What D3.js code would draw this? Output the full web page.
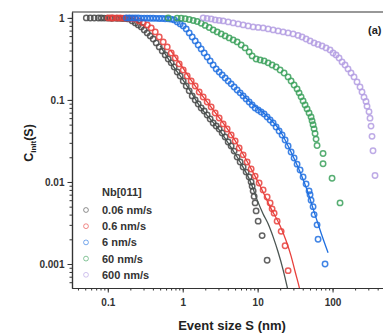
<!DOCTYPE html>
<html>
<head>
<meta charset="utf-8">
<script src="https://cdn.jsdelivr.net/npm/d3@7"></script>
<style>
  html, body { margin: 0; padding: 0; background: #fff; }
  svg { display: block; font-family: "Liberation Sans", Arial, sans-serif; }
</style>
</head>
<body>
<svg id="chart" width="383" height="334"></svg>
<script>
// Cumulative distribution of event sizes, Nb[011], for five driving rates.
const seriesNames = ["0.06 nm/s", "0.6 nm/s", "6 nm/s", "60 nm/s", "600 nm/s"];
const seriesColors = ["#474747", "#e8403c", "#1f6fe0", "#3aa05a", "#b39ce2"];

// event sizes S (nm) and cumulative fraction C_init(S) per rate
const s006 = [0.0517,0.0584,0.066,0.0747,0.0819,0.0897,0.0985,0.108,0.115,0.130,0.142,0.156,0.171,
  0.188,0.212,0.233,0.255,0.280,0.307,0.336,0.369,0.404,0.443,0.486,0.533,0.584,0.641,0.703,0.770,0.845,
  0.926,1.016,1.114,1.221,1.339,1.468,1.610,1.765,1.935,2.121,2.326,2.551,2.797,3.066,3.363,3.687,4.043,
  4.433,4.861,5.33,5.843,6.407,7.026,7.704,8.19,8.45,8.71,8.98,9.26,9.55,10.16,11.48,13.39];
const c006 = [1,0.999,0.998,0.997,0.996,0.995,0.994,0.993,0.991,0.989,0.987,0.984,0.98,
  0.972,0.919,0.869,0.8215,0.777,0.714,0.656,0.603,0.554,0.4955,0.443,0.396,0.354,0.316,0.283,0.2525,0.219,
  0.196,0.170,0.148,0.129,0.112,0.1,0.0894,0.0799,0.0734,0.0656,0.0586,0.0524,0.0482,0.0443,0.0396,0.0354,0.0307,
  0.0274,0.0238,0.0201,0.0175,0.0152,0.0132,0.0115,0.01,0.00889,0.00778,0.00667,0.00556,0.00444,0.00333,0.00222,0.00111];

const s06 = [0.1015,0.1113,0.1184,0.1339,0.1468,0.161,0.1765,0.1935,0.2121,
  0.2326,0.263,0.2973,0.3363,0.3802,0.4299,0.4861,0.5495,0.6213,0.7026,0.7943,0.8981,1.0155,1.148,1.298,
  1.468,1.66,1.877,2.121,2.399,2.712,3.066,3.467,3.921,4.433,5.012,5.667,6.407,7.245,8.191,9.261,10.47,
  11.84,13.39,14.68,15.61,16.6,18.2,20.6,23.26,25.51];
const c06 = [1,0.999,0.998,0.997,0.996,0.995,0.993,0.99,0.985,
  0.972,0.919,0.869,0.8215,0.755,0.675,0.586,0.51,0.443,0.374,0.325,0.275,0.232,0.196,0.170,
  0.148,0.125,0.1088,0.0945,0.0822,0.0694,0.0603,0.051,0.0443,0.0374,0.0316,0.0259,0.0214,0.0175,0.0144,0.0118,0.00972,
  0.008,0.00658,0.00556,0.0047,0.00417,0.00333,0.0025,0.00167,0.00083];

const s6 = [0.1765,0.1935,0.2121,0.2326,0.2551,0.2797,0.3066,0.3363,0.3687,0.4043,0.4433,0.4861,0.533,0.5843,0.6407,
  0.7026,0.7703,0.8447,0.9261,1.0155,1.1135,1.221,1.339,1.468,1.61,1.765,1.935,2.121,2.326,2.551,2.797,3.066,
  3.363,3.687,4.043,4.433,4.861,5.33,5.843,6.407,7.026,7.704,8.447,9.261,10.16,11.13,12.21,13.39,14.68,16.1,
  17.65,19.35,21.22,23.26,25.51,27.97,30.67,33.62,36.87,40.43,44.34,48.6,50.1,51.7,54.96,56.67,62.13,64.07,79.43];
const c6 = [1,0.999,0.998,0.997,0.996,0.995,0.994,0.993,0.992,0.99,0.988,0.985,0.982,0.978,0.973,
  0.966,0.945,0.894,0.845,0.799,0.734,0.656,0.586,0.524,0.468,0.419,0.374,0.334,0.299,0.267,0.239,0.219,
  0.2017,0.185,0.170,0.157,0.144,0.132,0.122,0.112,0.103,0.0945,0.0869,0.0799,0.0755,0.0714,0.0675,0.062,0.057,0.0524,
  0.0468,0.0418,0.0374,0.0325,0.0274,0.0232,0.0196,0.0165,0.014,0.0115,0.00945,0.00778,0.007,0.006,0.005,0.004,0.003,0.002,0.001];

const s60 = [0.6407,0.8447,0.955,1.08,1.221,1.381,1.561,1.765,1.995,2.256,2.551,2.884,3.261,3.687,4.169,4.714,5.33,
  6.026,6.813,7.704,8.447,9.55,10.8,12.21,13.8,15.61,17.65,19.95,22.56,25.51,27.97,30.67,33.62,35.76,38.02,40.43,
  42.99,45.72,48.6,51.68,53.3,54.96,56.67,58.43,60.26,62.13,74.7,74.7,98.5,125.9];
const c60 = [1,0.994,0.989,0.978,0.956,0.93,0.904,0.86,0.81,0.765,0.714,0.675,0.638,0.603,0.570,0.539,0.51,
  0.468,0.4305,0.385,0.344,0.316,0.307,0.299,0.283,0.267,0.2525,0.232,0.213,0.191,0.170,0.152,0.136,0.122,0.109,0.0972,
  0.0869,0.0777,0.0694,0.062,0.0556,0.05,0.0444,0.0389,0.0333,0.0278,0.0222,0.0167,0.0111,0.00556];

const s600 = [1.877,2.121,2.399,2.712,3.066,3.467,4.043,4.714,5.496,6.407,7.471,8.71,10.16,11.84,13.8,16.1,18.76,21.88,
  25.51,29.75,34.67,39.21,44.34,50.12,56.67,64.07,72.45,81.9,92.61,101.6,111.4,122.1,133.9,146.8,160.9,176.4,193.5,
  212.2,232.6,247.3,263.0,279.7,288.5,306.7,316.2,326.1,336.3,346.8,368.8];
const c600 = [1,0.986,0.972,0.945,0.932,0.919,0.894,0.869,0.845,0.8215,0.799,0.777,0.766,0.755,0.734,0.714,0.694,0.675,
  0.656,0.638,0.612,0.586,0.554,0.524,0.4955,0.475,0.455,0.4305,0.407,0.374,0.354,0.325,0.291,0.267,0.239,0.213,0.191,
  0.166,0.144,0.125,0.108,0.096,0.084,0.072,0.06,0.048,0.036,0.024,0.012];

// fitted curves for the three slowest rates
const fitS006 = [0.5012,0.6813,0.9261,1.259,1.711,2.326,3.162,4.299,5.843,7.943,9.848,11.84,13.8,16.1,18.76,21.88,24.74,26.3];
const fitC006 = [0.4554,0.2906,0.1961,0.1287,0.0822,0.0586,0.0418,0.0274,0.0175,0.0103,0.00605,0.00408,0.00309,0.00214,0.0014,0.00085,0.00053,0.00041];
const fitS06 = [0.6813,0.9261,1.259,1.711,2.326,3.162,4.299,5.843,7.943,10.8,14.68,19.95,23.99,27.97,31.62,35.76,38.02];
const fitC06 = [0.407,0.2747,0.1802,0.1217,0.0845,0.0586,0.0396,0.0252,0.0152,0.00894,0.00497,0.00292,0.00192,0.00125,0.00081,0.00053,0.00041];
const fitS6 = [5.843,7.943,10.8,14.68,19.95,27.13,36.87,47.15,58.43,70.26,87.1];
const fitC6 = [0.125,0.0945,0.0755,0.0586,0.0418,0.0245,0.0132,0.00735,0.00397,0.00239,0.00137];

const xTicks = [0.1, 1, 10, 100];
const yTicks = [1, 0.1, 0.01, 0.001];

const series = [
  {S: s006, C: c006}, {S: s06, C: c06}, {S: s6, C: c6}, {S: s60, C: c60}, {S: s600, C: c600}
].map((d, i) => ({
  name: seriesNames[i], color: seriesColors[i],
  points: d.S.map((s, j) => [s, d.C[j]])
}));
const fits = [
  {color: "#4b5552", S: fitS006, C: fitC006},
  {color: "#e8403c", S: fitS06, C: fitC06},
  {color: "#1f6fe0", S: fitS6, C: fitC6}
].map(f => ({color: f.color, points: f.S.map((s, j) => [s, f.C[j]])}));

const svg = d3.select("#chart");
const plotLeft = 72, plotRight = 384, plotTop = 12, plotBottom = 288;

const x = d3.scaleLog().domain([0.0333, 486]).range([plotLeft, plotRight]);
const y = d3.scaleLog().domain([0.00051, 1.18]).range([plotBottom, plotTop]);

svg.append("defs").append("clipPath").attr("id", "plot")
  .append("rect").attr("x", plotLeft).attr("y", plotTop)
  .attr("width", plotRight - plotLeft).attr("height", plotBottom - plotTop);

const plot = svg.append("g").attr("clip-path", "url(#plot)");

// data circles
series.forEach(s => {
  plot.append("g").selectAll("circle").data(s.points).join("circle")
    .attr("cx", d => x(d[0]))
    .attr("cy", d => y(d[1]))
    .attr("r", 2.7)
    .attr("fill", "none")
    .attr("stroke", s.color)
    .attr("stroke-width", 1.5)
    .attr("opacity", 0.85);
});

// fitted lines
const line = d3.line().x(d => x(d[0])).y(d => y(d[1])).curve(d3.curveMonotoneX);
fits.forEach(f => {
  plot.append("path").datum(f.points)
    .attr("d", line)
    .attr("fill", "none")
    .attr("stroke", f.color)
    .attr("stroke-width", 1.3);
});

// frame
svg.append("line").attr("x1", plotLeft).attr("x2", plotRight).attr("y1", plotTop).attr("y2", plotTop)
  .attr("stroke", "#333").attr("stroke-width", 1.2);

// axes
const minorX = [];
for (let e = -2; e <= 2; e++) for (let m = 1; m < 10; m++) {
  const v = m * Math.pow(10, e);
  if (v >= 0.0333 && v <= 486) minorX.push(v);
}
const minorY = [];
for (let e = -4; e <= 0; e++) for (let m = 1; m < 10; m++) {
  const v = m * Math.pow(10, e);
  if (v >= 0.00051 && v <= 1.18) minorY.push(v);
}

const xAxisG = svg.append("g").attr("transform", `translate(0,${plotBottom})`);
xAxisG.call(d3.axisBottom(x).tickValues(minorX).tickFormat("").tickSizeInner(2.5).tickSizeOuter(0));
xAxisG.append("g").call(d3.axisBottom(x).tickValues(xTicks).tickFormat(d3.format("~g")).tickSizeInner(4.5).tickSizeOuter(0));
xAxisG.selectAll(".domain").attr("stroke", "#333").attr("stroke-width", 1.2);
xAxisG.selectAll("line").attr("stroke", "#333");
xAxisG.selectAll("text").attr("font-size", 10).attr("font-weight", "bold").attr("fill", "#333").attr("dy", "1em");

const yAxisG = svg.append("g").attr("transform", `translate(${plotLeft},0)`);
yAxisG.call(d3.axisLeft(y).tickValues(minorY).tickFormat("").tickSizeInner(2.5).tickSizeOuter(0));
yAxisG.append("g").call(d3.axisLeft(y).tickValues(yTicks).tickFormat(d3.format("~g")).tickSizeInner(4.5).tickSizeOuter(0));
yAxisG.selectAll(".domain").attr("stroke", "#333").attr("stroke-width", 1.2);
yAxisG.selectAll("line").attr("stroke", "#333");
yAxisG.selectAll("text").attr("font-size", 10).attr("font-weight", "bold").attr("fill", "#333");

// axis titles
svg.append("text").attr("x", 232).attr("y", 330).attr("text-anchor", "middle")
  .attr("font-size", 13).attr("font-weight", "bold").attr("fill", "#222")
  .text("Event size S (nm)");

const yt = svg.append("text").attr("transform", "translate(33,143) rotate(-90)")
  .attr("text-anchor", "middle").attr("font-size", 12.5).attr("font-weight", "bold").attr("fill", "#222");
yt.append("tspan").text("C");
yt.append("tspan").attr("font-size", 8).attr("dy", 3).text("init");
yt.append("tspan").attr("dy", -3).text("(S)");

// panel tag
svg.append("text").attr("x", 368).attr("y", 34).attr("font-size", 11).attr("font-weight", "bold")
  .attr("fill", "#222").text("(a)");

// legend
const legend = svg.append("g").attr("transform", "translate(86,196)");
legend.append("text").attr("x", 16).attr("y", 0).attr("font-size", 11).attr("font-weight", "bold")
  .attr("fill", "#333").text("Nb[011]");
series.forEach((s, i) => {
  const gy = 14 + i * 16.2;
  legend.append("circle").attr("cx", 0).attr("cy", gy).attr("r", 2.4)
    .attr("fill", "none").attr("stroke", s.color).attr("stroke-width", 1).attr("opacity", 0.6);
  legend.append("text").attr("x", 16).attr("y", gy + 4).attr("font-size", 11).attr("font-weight", "bold")
    .attr("fill", "#333").text(s.name);
});
</script>
</body>
</html>
